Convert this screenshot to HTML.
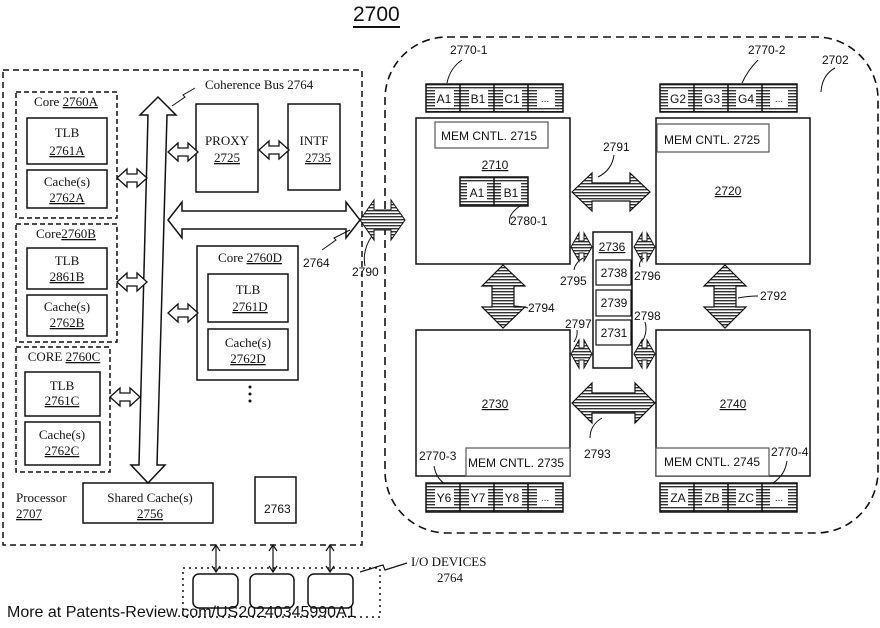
<!DOCTYPE html>
<html><head><meta charset="utf-8"><style>
html,body{margin:0;padding:0;background:#fff;}
svg{display:block;}
.s{font-family:"Liberation Serif",serif;font-size:13px;fill:#111;}
.a{font-family:"Liberation Sans",sans-serif;font-size:12px;fill:#111;}
</style></head><body>
<svg width="880" height="628" viewBox="0 0 880 628" xmlns="http://www.w3.org/2000/svg">
<defs>
<pattern id="h" width="4" height="3" patternUnits="userSpaceOnUse"><rect width="4" height="3" fill="#fff"/><rect width="4" height="1.4" fill="#333"/></pattern>
<polygon id="sa" points="0,0 10,-9 10,-4 20,-4 20,-9 30,0 20,9 20,4 10,4 10,9" fill="#fff" stroke="#111" stroke-width="1.3"/>
<polygon id="ha" points="0,0 8,-14 8,-6 13,-6 13,-14 21,0 13,14 13,6 8,6 8,14" fill="url(#h)" stroke="#111" stroke-width="1"/>
</defs>
<rect width="880" height="628" fill="#fff"/>
<text x="353" y="21" font-family="Liberation Sans,sans-serif" font-size="21" fill="#111">2700</text>
<line x1="353" y1="27" x2="400" y2="27" stroke="#111" stroke-width="2"/>

<!-- processor -->
<rect x="3" y="70" width="359" height="475" fill="none" stroke="#111" stroke-width="1.5" stroke-dasharray="6,4"/>
<g fill="none" stroke="#111" stroke-width="1.5" stroke-dasharray="5,3">
<rect x="16" y="92" width="101" height="126"/>
<rect x="16" y="224" width="101" height="118"/>
<rect x="16" y="347" width="94" height="125"/>
</g>
<g fill="#fff" stroke="#111" stroke-width="1.5">
<rect x="27" y="118" width="80" height="46"/><rect x="27" y="170" width="80" height="38"/>
<rect x="27" y="248" width="80" height="41"/><rect x="27" y="295" width="80" height="41"/>
<rect x="25" y="372" width="75" height="44"/><rect x="25" y="422" width="75" height="43"/>
<rect x="196" y="104" width="62" height="88"/><rect x="288" y="104" width="52" height="86"/>
<rect x="197" y="246" width="101" height="134"/>
<rect x="208" y="274" width="80" height="48"/><rect x="208" y="329" width="80" height="41"/>
<rect x="83" y="483" width="130" height="40"/><rect x="255" y="477" width="41" height="46"/>
</g>
<g class="s" text-anchor="middle">
<text x="66" y="106">Core <tspan text-decoration="underline">2760A</tspan></text>
<text x="67" y="137">TLB</text><text x="67" y="155" text-decoration="underline">2761A</text>
<text x="67" y="186">Cache(s)</text><text x="67" y="202" text-decoration="underline">2762A</text>
<text x="66" y="238">Core<tspan text-decoration="underline">2760B</tspan></text>
<text x="67" y="265">TLB</text><text x="67" y="281" text-decoration="underline">2861B</text>
<text x="67" y="311">Cache(s)</text><text x="67" y="327" text-decoration="underline">2762B</text>
<text x="64" y="361">CORE <tspan text-decoration="underline">2760C</tspan></text>
<text x="62" y="390">TLB</text><text x="62" y="405" text-decoration="underline">2761C</text>
<text x="62" y="439">Cache(s)</text><text x="62" y="455" text-decoration="underline">2762C</text>
<text x="227" y="145">PROXY</text><text x="227" y="162" text-decoration="underline">2725</text>
<text x="314" y="145">INTF</text><text x="318" y="162" text-decoration="underline">2735</text>
<text x="250" y="262">Core <tspan text-decoration="underline">2760D</tspan></text>
<text x="248" y="294">TLB</text><text x="250" y="311" text-decoration="underline">2761D</text>
<text x="248" y="347">Cache(s)</text><text x="248" y="363" text-decoration="underline">2762D</text>
<text x="150" y="502">Shared Cache(s)</text><text x="150" y="518" text-decoration="underline">2756</text>
</g>
<text class="a" x="264" y="513" font-size="13">2763</text>
<text class="s" x="16" y="502">Processor</text><text class="s" x="16" y="518" text-decoration="underline">2707</text>
<text class="s" x="205" y="89">Coherence Bus 2764</text>
<polyline points="172,106 185,97 183,95 195,88" fill="none" stroke="#111"/>
<circle cx="250" cy="387" r="1.5" fill="#111"/><circle cx="250" cy="394" r="1.5" fill="#111"/><circle cx="250" cy="401" r="1.5" fill="#111"/>
<polygon points="158,97 176,115 167,115 157,465 165,465 148,483 131,465 139,465 148,115 140,115" fill="#fff" stroke="#111" stroke-width="1.5"/>
<use href="#sa" x="117" y="178"/><use href="#sa" x="117" y="282"/><use href="#sa" x="110" y="397"/>
<use href="#sa" x="168" y="152" transform="translate(0,0)"/><use href="#sa" x="260" y="150" transform="translate(-1,0)"/>
<use href="#sa" x="168" y="313"/>
<polygon points="168,220 182,202 182,211 346,211 346,202 360,220 346,238 346,229 182,229 182,238" fill="#fff" stroke="#111" stroke-width="1.5"/>
<text class="a" x="303" y="267" font-size="13">2764</text>
<polyline points="322,250 336,240 334,238 350,230" fill="none" stroke="#111"/>
<text class="a" x="352" y="276" font-size="13">2790</text>
<path d="M365,266 Q362,250 372,236" fill="none" stroke="#111"/>

<!-- right region -->
<rect x="385" y="37" width="493" height="496" rx="62" fill="none" stroke="#111" stroke-width="1.6" stroke-dasharray="8,5"/>
<polygon points="360,220 374,200 374,210 391,210 391,200 405,220 391,240 391,230 374,230 374,240" fill="url(#h)" stroke="#111"/>
<text class="a" x="822" y="64">2702</text><path d="M821,92 Q822,75 835,68" fill="none" stroke="#111"/>
<g fill="#fff" stroke="#111" stroke-width="1.5">
<rect x="416" y="118" width="154" height="146"/><rect x="656" y="118" width="154" height="146"/>
<rect x="416" y="330" width="154" height="146"/><rect x="656" y="330" width="154" height="146"/>
</g>
<g fill="#fff" stroke="#555" stroke-width="1.2">
<rect x="435" y="122" width="113" height="26"/><rect x="657" y="124" width="112" height="28"/>
<rect x="466" y="448" width="104" height="28"/><rect x="656" y="448" width="113" height="28"/>
</g>
<g class="a" font-size="12.5">
<text x="441" y="140">MEM CNTL. 2715</text><text x="664" y="144">MEM CNTL. 2725</text>
<text x="468" y="467">MEM CNTL. 2735</text><text x="664" y="466">MEM CNTL. 2745</text>
</g>
<g class="a" font-size="13" text-anchor="middle">
<text x="495" y="169" text-decoration="underline">2710</text>
<text x="728" y="195" text-decoration="underline">2720</text>
<text x="495" y="408" text-decoration="underline">2730</text>
<text x="733" y="408" text-decoration="underline">2740</text>
</g>
<!-- mem strips -->
<g stroke="#111" stroke-width="1.5">
<rect x="426" y="84" width="137" height="28" fill="url(#h)"/>
<rect x="660" y="84" width="137" height="28" fill="url(#h)"/>
<rect x="426" y="483" width="137" height="29" fill="url(#h)"/>
<rect x="660" y="483" width="137" height="29" fill="url(#h)"/>
<rect x="460" y="177" width="68" height="29" fill="url(#h)"/>
<line x1="460" y1="84" x2="460" y2="112"/><line x1="494" y1="84" x2="494" y2="112"/><line x1="528" y1="84" x2="528" y2="112"/>
<line x1="694" y1="84" x2="694" y2="112"/><line x1="728" y1="84" x2="728" y2="112"/><line x1="762" y1="84" x2="762" y2="112"/>
<line x1="460" y1="483" x2="460" y2="512"/><line x1="494" y1="483" x2="494" y2="512"/><line x1="528" y1="483" x2="528" y2="512"/>
<line x1="694" y1="483" x2="694" y2="512"/><line x1="728" y1="483" x2="728" y2="512"/><line x1="762" y1="483" x2="762" y2="512"/>
<line x1="494" y1="177" x2="494" y2="206"/>
</g>
<g fill="#fff">
<rect x="435" y="89" width="19" height="18"/><rect x="469" y="89" width="19" height="18"/><rect x="503" y="89" width="19" height="18"/><rect x="537" y="89" width="18" height="18"/>
<rect x="668" y="89" width="20" height="18"/><rect x="702" y="89" width="20" height="18"/><rect x="736" y="89" width="20" height="18"/><rect x="770" y="89" width="18" height="18"/>
<rect x="435" y="488" width="19" height="19"/><rect x="469" y="488" width="19" height="19"/><rect x="503" y="488" width="19" height="19"/><rect x="537" y="488" width="18" height="19"/>
<rect x="668" y="488" width="20" height="19"/><rect x="702" y="488" width="20" height="19"/><rect x="736" y="488" width="20" height="19"/><rect x="770" y="488" width="18" height="19"/>
<rect x="467" y="183" width="20" height="17"/><rect x="501" y="183" width="20" height="17"/>
</g>
<g class="a" font-size="13" text-anchor="middle">
<text x="444" y="103">A1</text><text x="478" y="103">B1</text><text x="512" y="103">C1</text><text x="545" y="102" font-size="10">...</text>
<text x="678" y="103">G2</text><text x="712" y="103">G3</text><text x="746" y="103">G4</text><text x="779" y="102" font-size="10">...</text>
<text x="444" y="502">Y6</text><text x="478" y="502">Y7</text><text x="512" y="502">Y8</text><text x="545" y="501" font-size="10">...</text>
<text x="678" y="502">ZA</text><text x="712" y="502">ZB</text><text x="746" y="502">ZC</text><text x="779" y="501" font-size="10">...</text>
<text x="477" y="197">A1</text><text x="511" y="197">B1</text>
</g>
<g class="a">
<text x="450" y="54">2770-1</text><path d="M447,83 Q450,68 462,60" fill="none" stroke="#111"/>
<text x="748" y="54">2770-2</text><path d="M742,83 Q748,70 758,60" fill="none" stroke="#111"/>
<text x="419" y="460">2770-3</text><path d="M434,466 Q436,478 445,484" fill="none" stroke="#111"/>
<text x="771" y="456">2770-4</text><path d="M787,461 Q785,475 773,483" fill="none" stroke="#111"/>
<text x="510" y="225">2780-1</text><path d="M510,224 Q507,215 520,206" fill="none" stroke="#111"/>
<text x="603" y="151">2791</text><path d="M614,155 Q612,170 598,177" fill="none" stroke="#111"/>
<text x="528" y="312">2794</text><path d="M528,308 Q520,306 512,306" fill="none" stroke="#111"/>
<text x="760" y="300">2792</text><path d="M758,296 Q748,296 738,298" fill="none" stroke="#111"/>
<text x="584" y="458">2793</text><path d="M590,438 Q590,425 602,418" fill="none" stroke="#111"/>
<text x="560" y="285">2795</text><path d="M574,270 Q575,263 583,258" fill="none" stroke="#111"/>
<text x="634" y="280">2796</text><path d="M640,267 Q638,262 644,258" fill="none" stroke="#111"/>
<text x="565" y="328">2797</text><path d="M577,330 Q578,336 574,342" fill="none" stroke="#111"/>
<text x="634" y="320">2798</text><path d="M645,322 Q648,332 642,342" fill="none" stroke="#111"/>
</g>
<rect x="593" y="232" width="39" height="136" fill="#fff" stroke="#111" stroke-width="1.5"/>
<g fill="#fff" stroke="#111" stroke-width="1.2">
<rect x="596" y="260" width="35" height="25"/><rect x="596" y="290" width="35" height="26"/><rect x="596" y="320" width="35" height="25"/>
</g>
<g class="a" font-size="12.5" text-anchor="middle">
<text x="612" y="251" text-decoration="underline">2736</text>
<text x="614" y="277">2738</text><text x="614" y="307">2739</text><text x="614" y="337">2731</text>
</g>
<g stroke="#111" stroke-width="1.2" fill="url(#h)">
<polygon points="572,192 592,173 592,183 630,183 630,173 650,192 630,211 630,201 592,201 592,211"/>
<polygon points="572,403 592,383 592,393 635,393 635,383 655,403 635,423 635,413 592,413 592,423"/>
<polygon points="503,265 525,286 514,286 514,307 525,307 503,328 482,307 492,307 492,286 482,286"/>
<polygon points="725,265 746,286 736,286 736,307 746,307 725,328 704,307 714,307 714,286 704,286"/>
</g>
<use href="#ha" x="571" y="247"/><use href="#ha" x="634" y="247"/>
<use href="#ha" x="571" y="354"/><use href="#ha" x="634" y="354"/>

<!-- IO -->
<rect x="183" y="568" width="197" height="49" fill="none" stroke="#111" stroke-width="1.5" stroke-dasharray="2,4"/>
<g fill="#fff" stroke="#111" stroke-width="1.5">
<rect x="193" y="574" width="45" height="34" rx="6"/><rect x="250" y="574" width="44" height="34" rx="6"/><rect x="308" y="574" width="45" height="34" rx="6"/>
</g>
<g stroke="#111" stroke-width="1.2" fill="none">
<line x1="216" y1="545" x2="216" y2="572"/><polyline points="212,551 216,545 220,551"/><polyline points="212,566 216,572 220,566"/>
<line x1="273" y1="545" x2="273" y2="572"/><polyline points="269,551 273,545 277,551"/><polyline points="269,566 273,572 277,566"/>
<line x1="330" y1="545" x2="330" y2="572"/><polyline points="326,551 330,545 334,551"/><polyline points="326,566 330,572 334,566"/>
<polyline points="360,572 383,565 385,570 407,563"/>
</g>
<text class="s" x="411" y="566">I/O DEVICES</text>
<text class="s" x="437" y="582">2764</text>
<text x="7" y="617" font-family="Liberation Sans,sans-serif" font-size="16" fill="#111">More at Patents-Review.com/US20240345990A1</text>
</svg>
</body></html>
